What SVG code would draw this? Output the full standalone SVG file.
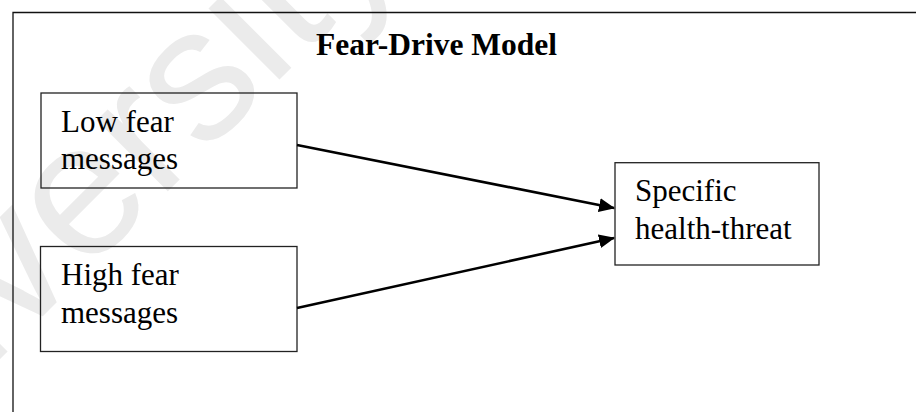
<svg xmlns="http://www.w3.org/2000/svg" width="916" height="412" viewBox="0 0 916 412">
  <style>
    .frame { fill: none; stroke: #111; stroke-width: 1.3; }
    .box { fill: none; stroke: #222; stroke-width: 1.3; }
    .label { font-family: "Liberation Serif", "Times New Roman", serif; font-size: 31px; fill: #000; }
    .title { font-family: "Liberation Serif", "Times New Roman", serif; font-size: 31.5px; font-weight: bold; fill: #000; }
    .wm { font-family: "Liberation Sans", Arial, sans-serif; font-size: 190px; fill: #ebebeb; }
    .edge { fill: none; stroke: #000; stroke-width: 2.6; }
  </style>
  <defs>
    <marker id="arrow" viewBox="0 0 16 14" refX="15" refY="7" markerWidth="16" markerHeight="14" markerUnits="userSpaceOnUse" orient="auto">
      <path d="M0,0 L16,7 L0,14 Z" fill="#000"/>
    </marker>
  </defs>

  <rect width="916" height="412" fill="#fff"/>

  <!-- faint background stamp -->
  <text class="wm" transform="translate(-185,544) rotate(-45)">University</text>

  <!-- outer frame: top and left rules only -->
  <path class="frame" d="M13,412 L13,12.5 L916,12.5"/>

  <text class="title" x="316" y="55">Fear-Drive Model</text>

  <g id="low-fear">
    <rect class="box" x="41" y="93" width="256" height="95"/>
    <text class="label" x="61" y="132">Low fear</text>
    <text class="label" x="61" y="169">messages</text>
  </g>

  <g id="high-fear">
    <rect class="box" x="40.5" y="246.5" width="256.5" height="105"/>
    <text class="label" x="61" y="285">High fear</text>
    <text class="label" x="61" y="323">messages</text>
  </g>

  <g id="health-threat">
    <rect class="box" x="615" y="162.7" width="204" height="102.3"/>
    <text class="label" x="635" y="201">Specific</text>
    <text class="label" x="635" y="239">health-threat</text>
  </g>

  <g id="connectors">
    <line class="edge" x1="297" y1="145" x2="614" y2="208" marker-end="url(#arrow)"/>
    <line class="edge" x1="297" y1="308" x2="614" y2="238" marker-end="url(#arrow)"/>
  </g>
</svg>
